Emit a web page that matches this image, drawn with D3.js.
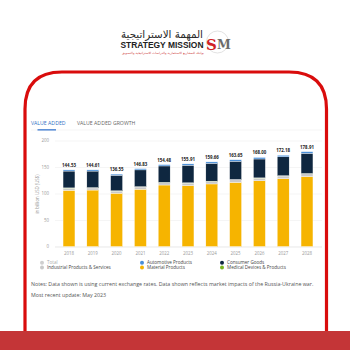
<!DOCTYPE html>
<html><head><meta charset="utf-8">
<script src="https://cdn.jsdelivr.net/npm/d3@7"></script>
<style>
html,body{margin:0;padding:0;background:#fff;}
svg{display:block;}
</style></head>
<body>
<svg id="c" width="350" height="350"></svg>
<script>
// ---- data ----
const years = ["2018","2019","2020","2021","2022","2023","2024","2025","2026","2027","2028"];
const totals = [144.53,144.61,136.55,146.83,154.48,155.91,159.66,163.65,168.00,172.18,178.91];
const totalLabels = ["144.53","144.61","136.55","146.83","154.48","155.91","159.66","163.65","168.00","172.18","178.91"];
const materialProducts = [106,106.5,100.5,108,116,115,118,121,124,128,132];
const industrialProducts = [4,4,4,4.3,4.5,4.6,4.7,4.8,4.9,5.0,5.2];
const medicalDevices = [0.6,0.6,0.6,0.6,0.6,0.6,0.6,0.6,0.6,0.6,0.6];
const consumerGoods = [31.73,31.21,29.35,31.63,30.88,33.11,33.66,34.45,35.6,35.58,38.01];
const automotiveProducts = [2.2,2.3,2.1,2.3,2.5,2.6,2.7,2.8,2.9,3.0,3.1];
const yTicks = [0,50,100,150,200];
const seriesKeys = ["Material Products","Industrial Products & Services","Medical Devices & Products","Consumer Goods","Automotive Products"];
const legendItems = ["Total","Automotive Products","Consumer Goods","Industrial Products & Services","Material Products","Medical Devices & Products"];

const colors = {
  "Total":"#cfcfcf",
  "Material Products":"#f6b400",
  "Industrial Products & Services":"#c9c9c9",
  "Medical Devices & Products":"#7ab51d",
  "Consumer Goods":"#0f2740",
  "Automotive Products":"#4a8fd8"
};

const rows = years.map((y,i)=>({
  year:y,
  "Material Products":materialProducts[i],
  "Industrial Products & Services":industrialProducts[i],
  "Medical Devices & Products":medicalDevices[i],
  "Consumer Goods":consumerGoods[i],
  "Automotive Products":automotiveProducts[i],
  total:totals[i], label:totalLabels[i]
}));

const svg = d3.select("#c");
const font = "'Open Sans', 'Noto Sans', sans-serif";

// ---- logo ----
const logo = svg.append("g");
logo.append("text").attr("x",162).attr("y",38).attr("text-anchor","middle")
  .attr("font-family","'DejaVu Sans', sans-serif").attr("font-size",10.5).attr("fill","#2b2b2b")
  .attr("textLength",82).attr("lengthAdjust","spacingAndGlyphs")
  .text("المهمة الاستراتيجية");
logo.append("text").attr("x",162).attr("y",48.3).attr("text-anchor","middle")
  .attr("font-family","'Liberation Sans', Arial, sans-serif").attr("font-weight","bold")
  .attr("font-size",8.2).attr("fill","#222").attr("textLength",83).attr("lengthAdjust","spacingAndGlyphs")
  .text("STRATEGY MISSION");
logo.append("text").attr("x",163).attr("y",53.5).attr("text-anchor","middle")
  .attr("font-family","'DejaVu Sans', sans-serif").attr("font-size",3).attr("fill","#c33")
  .attr("textLength",82).attr("lengthAdjust","spacingAndGlyphs")
  .text("بوابتك للمشاريع الاستثمارية والدراسات الاستراتيجية والتسويق");
logo.append("circle").attr("cx",217.5).attr("cy",42).attr("r",11).attr("fill","none").attr("stroke","#e2e2e2").attr("stroke-width",1);
logo.append("text").attr("x",211.5).attr("y",49.5).attr("text-anchor","middle")
  .attr("font-family","'DejaVu Serif', serif").attr("font-weight","bold").attr("font-size",15).attr("fill","#d11f26")
  .text("S");
logo.append("text").attr("x",224).attr("y",48.5).attr("text-anchor","middle")
  .attr("font-family","'DejaVu Serif', serif").attr("font-weight","bold").attr("font-size",12.5).attr("fill","#6b6b6b")
  .text("M");

// ---- bottom band & frame ----
svg.append("rect").attr("x",0).attr("y",331).attr("width",350).attr("height",19).attr("fill","#c43537");
svg.append("path")
  .attr("d","M25,331 L25,109 Q25,72 62,72 L289,72 Q326.5,72 326.5,109 L326.5,331")
  .attr("fill","none").attr("stroke","#d90c0c").attr("stroke-width",3.2);

// ---- tabs ----
svg.append("text").attr("x",31).attr("y",124.5).attr("font-family",font).attr("font-size",5.2)
  .attr("fill","#2f6fc4").text("VALUE ADDED");
svg.append("text").attr("x",77).attr("y",124.5).attr("font-family",font).attr("font-size",5.2)
  .attr("fill","#666").text("VALUE ADDED GROWTH");
svg.append("line").attr("x1",31).attr("x2",322).attr("y1",130).attr("y2",130).attr("stroke","#eeeeee").attr("stroke-width",0.6);
svg.append("rect").attr("x",37.5).attr("y",129.2).attr("width",18.5).attr("height",1.3).attr("fill","#3a78cf");

// ---- scales ----
const x = d3.scaleBand().domain(years).range([57.1,318.9]).paddingInner(0.5).paddingOuter(0.25);
const y = d3.scaleLinear().domain([0,200]).range([246.5,140.5]);

// grid
const yAxis = svg.append("g").attr("transform","translate(55,0)")
  .call(d3.axisLeft(y).tickValues(yTicks).tickSize(-267).tickPadding(6));
yAxis.select(".domain").remove();
yAxis.selectAll(".tick line").attr("stroke",d=>d===0?"#d8d8d8":"#efefef").attr("stroke-width",0.6);
yAxis.selectAll(".tick text").attr("font-family",font).attr("font-size",4.4).attr("fill","#999");

svg.append("text").attr("transform","translate(39,194) rotate(-90)").attr("text-anchor","middle")
  .attr("font-family",font).attr("font-size",4.4).attr("fill","#999").text("in billion USD (US$)");

// x axis
const xAxis = svg.append("g").attr("transform","translate(0,246.5)")
  .call(d3.axisBottom(x).tickSize(0).tickPadding(5.5));
xAxis.select(".domain").remove();
xAxis.selectAll(".tick text").attr("font-family",font).attr("font-size",4.4).attr("fill","#999");

// stacked bars
const stack = d3.stack().keys(seriesKeys);
const series = stack(rows);
svg.append("g").selectAll("g").data(series).join("g")
  .attr("fill",d=>colors[d.key])
  .selectAll("rect").data(d=>d).join("rect")
  .attr("x",d=>x(d.data.year))
  .attr("width",x.bandwidth())
  .attr("y",d=>y(d[1]))
  .attr("height",d=>Math.max(0,y(d[0])-y(d[1])))
  .attr("stroke","#fff").attr("stroke-width",0.35);

// total labels
svg.append("g").selectAll("text").data(rows).join("text")
  .attr("x",d=>x(d.year)+x.bandwidth()/2)
  .attr("y",d=>y(d.total)-3)
  .attr("text-anchor","middle")
  .attr("font-family",font).attr("font-weight","bold").attr("font-size",4.4).attr("fill","#222")
  .text(d=>d.label);

// legend
const legendX = [42,142,222];
const legendY = [262.8,267.6];
const lg = svg.append("g");
legendItems.forEach((name,i)=>{
  const cx = legendX[i%3], cy = legendY[Math.floor(i/3)];
  lg.append("circle").attr("cx",cx).attr("cy",cy).attr("r",2).attr("fill",colors[name]);
  lg.append("text").attr("x",cx+5).attr("y",cy+1.6).attr("font-family",font).attr("font-size",4.6)
    .attr("fill",name==="Total"?"#aaa":"#444").text(name);
});

// notes
svg.append("text").attr("x",31).attr("y",285.5).attr("font-family",font).attr("font-size",5.3).attr("fill","#555")
  .text("Notes: Data shown is using current exchange rates. Data shown reflects market impacts of the Russia-Ukraine war.");
svg.append("text").attr("x",31).attr("y",297).attr("font-family",font).attr("font-size",5.3).attr("fill","#555")
  .text("Most recent update: May 2023");
</script>
</body></html>
